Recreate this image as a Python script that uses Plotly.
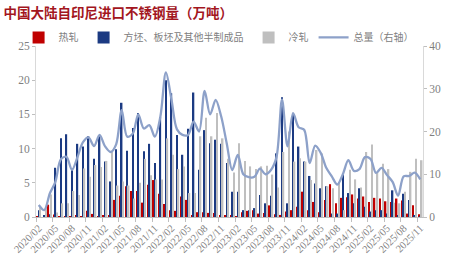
import plotly.graph_objects as go

months = [
    "2020/02", "2020/03", "2020/04", "2020/05", "2020/06", "2020/07", "2020/08", "2020/09", "2020/10", "2020/11", "2020/12",
    "2021/01", "2021/02", "2021/03", "2021/04", "2021/05", "2021/06", "2021/07", "2021/08", "2021/09", "2021/10", "2021/11", "2021/12",
    "2022/01", "2022/02", "2022/03", "2022/04", "2022/05", "2022/06", "2022/07", "2022/08", "2022/09", "2022/10", "2022/11", "2022/12",
    "2023/01", "2023/02", "2023/03", "2023/04", "2023/05", "2023/06", "2023/07", "2023/08", "2023/09", "2023/10", "2023/11", "2023/12",
    "2024/01", "2024/02", "2024/03", "2024/04", "2024/05", "2024/06", "2024/07", "2024/08", "2024/09", "2024/10", "2024/11", "2024/12",
    "2025/01", "2025/02", "2025/03", "2025/04", "2025/05", "2025/06", "2025/07", "2025/08", "2025/09", "2025/10", "2025/11",
]

hot_rolled = [
    0.1, 0.0, 1.8, 0.35, 0.05, 0.05, 0.1, 0.15, 0.1, 0.9, 0.45,
    0.1, 0.15, 0.3, 2.5, 3.1, 4.5, 3.8, 3.8, 2.1, 4.7, 5.4, 3.4,
    1.9, 1.0, 0.9, 3.0, 2.5, 0.3, 0.7, 0.7, 0.6, 0.6, 0.3, 0.3,
    0.2, 0.1, 0.7, 0.9, 1.0, 0.5, 0.6, 1.7, 0.4, 0.3, 0.8, 1.0,
    1.5, 3.7, 1.0, 2.2, 0.7, 2.5, 4.8, 2.0, 2.8, 2.9, 3.3, 2.7,
    3.0, 2.2, 2.8, 2.7, 2.3, 2.2, 2.7, 2.4, 0.5, 1.7, 0.4,
]

billets = [
    1.0, 0.2, 0.4, 7.2, 11.5, 12.1, 7.1, 10.7, 10.3, 11.8, 8.5,
    11.8, 8.1, 5.2, 9.9, 16.7, 9.7, 13.0, 15.2, 9.6, 10.7, 7.9, 14.6,
    20.0, 18.1, 12.0, 9.1, 12.9, 18.2, 6.9, 12.7, 10.8, 11.3, 10.7, 7.9,
    3.7, 3.7, 1.0, 1.0, 1.3, 3.2, 2.0, 3.1, 9.3, 17.5, 2.0, 15.2,
    10.3, 8.1, 6.0, 4.9, 4.2, 4.5, 0.5, 0.5, 6.2, 3.5, 2.0, 4.2,
    1.5, 0.8, 1.0, 1.0, 0.5, 3.9, 0.3, 3.4, 2.5, 0.2, 0.1,
]

cold_rolled = [
    1.5, 1.4, 3.3, 0.65, 2.0, 2.0, 3.8, 3.2, 7.1, 5.9, 7.6,
    7.3, 8.2, 9.7, 4.6, 5.2, 4.6, 2.7, 5.0, 8.5, 6.1, 5.5, 5.5,
    11.5, 9.1, 7.0, 7.4, 3.5, 3.5, 11.8, 14.5, 11.8, 15.2, 11.5, 8.5,
    6.5, 10.8, 8.2, 7.4, 7.0, 7.4, 7.5, 6.2, 4.3, 9.5, 12.5, 8.1,
    8.6, 8.1, 5.4, 9.8, 9.3, 4.5, 4.2, 5.1, 1.0, 6.9, 5.5, 4.3,
    9.5, 10.6, 6.5, 7.8, 7.0, 2.1, 2.0, 3.7, 6.6, 8.5, 8.3,
]

total_right = [
    2.8, 1.6, 5.5, 8.2, 13.5, 14.1, 11.0, 14.0, 17.5, 18.6, 16.6,
    19.2, 16.5, 15.2, 17.0, 25.0, 18.8, 19.5, 24.0, 20.7, 21.5, 18.8, 23.5,
    33.8, 27.5, 20.5, 19.2, 19.2, 22.3, 20.0, 29.5, 24.0, 27.4, 23.5, 17.2,
    11.0, 14.5, 10.0, 9.3, 9.4, 11.3, 10.0, 11.0, 14.0, 27.5, 16.5, 24.3,
    21.0, 20.4, 12.6, 16.7, 15.0, 11.5, 9.5, 7.6, 10.0, 13.3, 10.8, 11.2,
    14.0, 13.6, 10.3, 11.5, 9.8, 8.2, 5.0, 9.5, 9.6, 10.4, 8.8,
]

num_font = "Times New Roman, Liberation Serif, Noto Sans CJK SC"
cjk_font = "Noto Sans CJK SC"
grey_txt = "#7F7F7F"
axis_col = "#BFBFBF"

fig = go.Figure()
fig.add_bar(x=months, y=hot_rolled, name="热轧", marker_color="#C00000", marker_line_width=0)
fig.add_bar(x=months, y=billets, name="方坯、板坯及其他半制成品", marker_color="#1B3A82", marker_line_width=0)
fig.add_bar(x=months, y=cold_rolled, name="冷轧", marker_color="#BFBFBF", marker_line_width=0)
fig.add_scatter(x=months, y=total_right, name="总量（右轴）", yaxis="y2", mode="lines",
                line=dict(color="#8DA1C9", width=2.3, shape="spline", smoothing=0.9))

fig.update_layout(
    width=453, height=272,
    margin=dict(l=32, r=23, t=46, b=55),
    paper_bgcolor="white", plot_bgcolor="white",
    barmode="group", bargap=0.2, bargroupgap=0.0,
    title=dict(text="<b>中国大陆自印尼进口不锈钢量（万吨）</b>", x=0.008, xanchor="left",
               xref="container", y=0.952, yanchor="middle",
               font=dict(family=cjk_font, size=13.5, color="#A3161E")),
    legend=dict(orientation="h", x=-0.045, xanchor="left", y=1.05, yanchor="middle",
                font=dict(family=cjk_font, size=10, color="#808080"),
                itemwidth=30, bgcolor="rgba(0,0,0,0)", traceorder="normal"),
    font=dict(family=num_font, color=grey_txt),
    xaxis=dict(type="category", tickmode="linear", tick0=0, dtick=3, tickangle=-45,
               tickson="boundaries", ticks="outside", ticklen=4, tickcolor=axis_col,
               showline=True, linecolor=axis_col, linewidth=1, showgrid=False,
               tickfont=dict(family=num_font, size=10.5, color=grey_txt)),
    yaxis=dict(range=[0, 25], dtick=5, showgrid=False, zeroline=False,
               showline=True, linecolor="#D9D9D9", ticks="outside", ticklen=3, tickcolor=axis_col,
               tickfont=dict(family=num_font, size=11.5, color=grey_txt)),
    yaxis2=dict(range=[0, 40], dtick=10, overlaying="y", side="right", showgrid=False, zeroline=False,
                showline=True, linecolor="#D9D9D9", ticks="outside", ticklen=3, tickcolor=axis_col,
                tickfont=dict(family=num_font, size=11.5, color=grey_txt)),
)

fig.write_html("out.html")
